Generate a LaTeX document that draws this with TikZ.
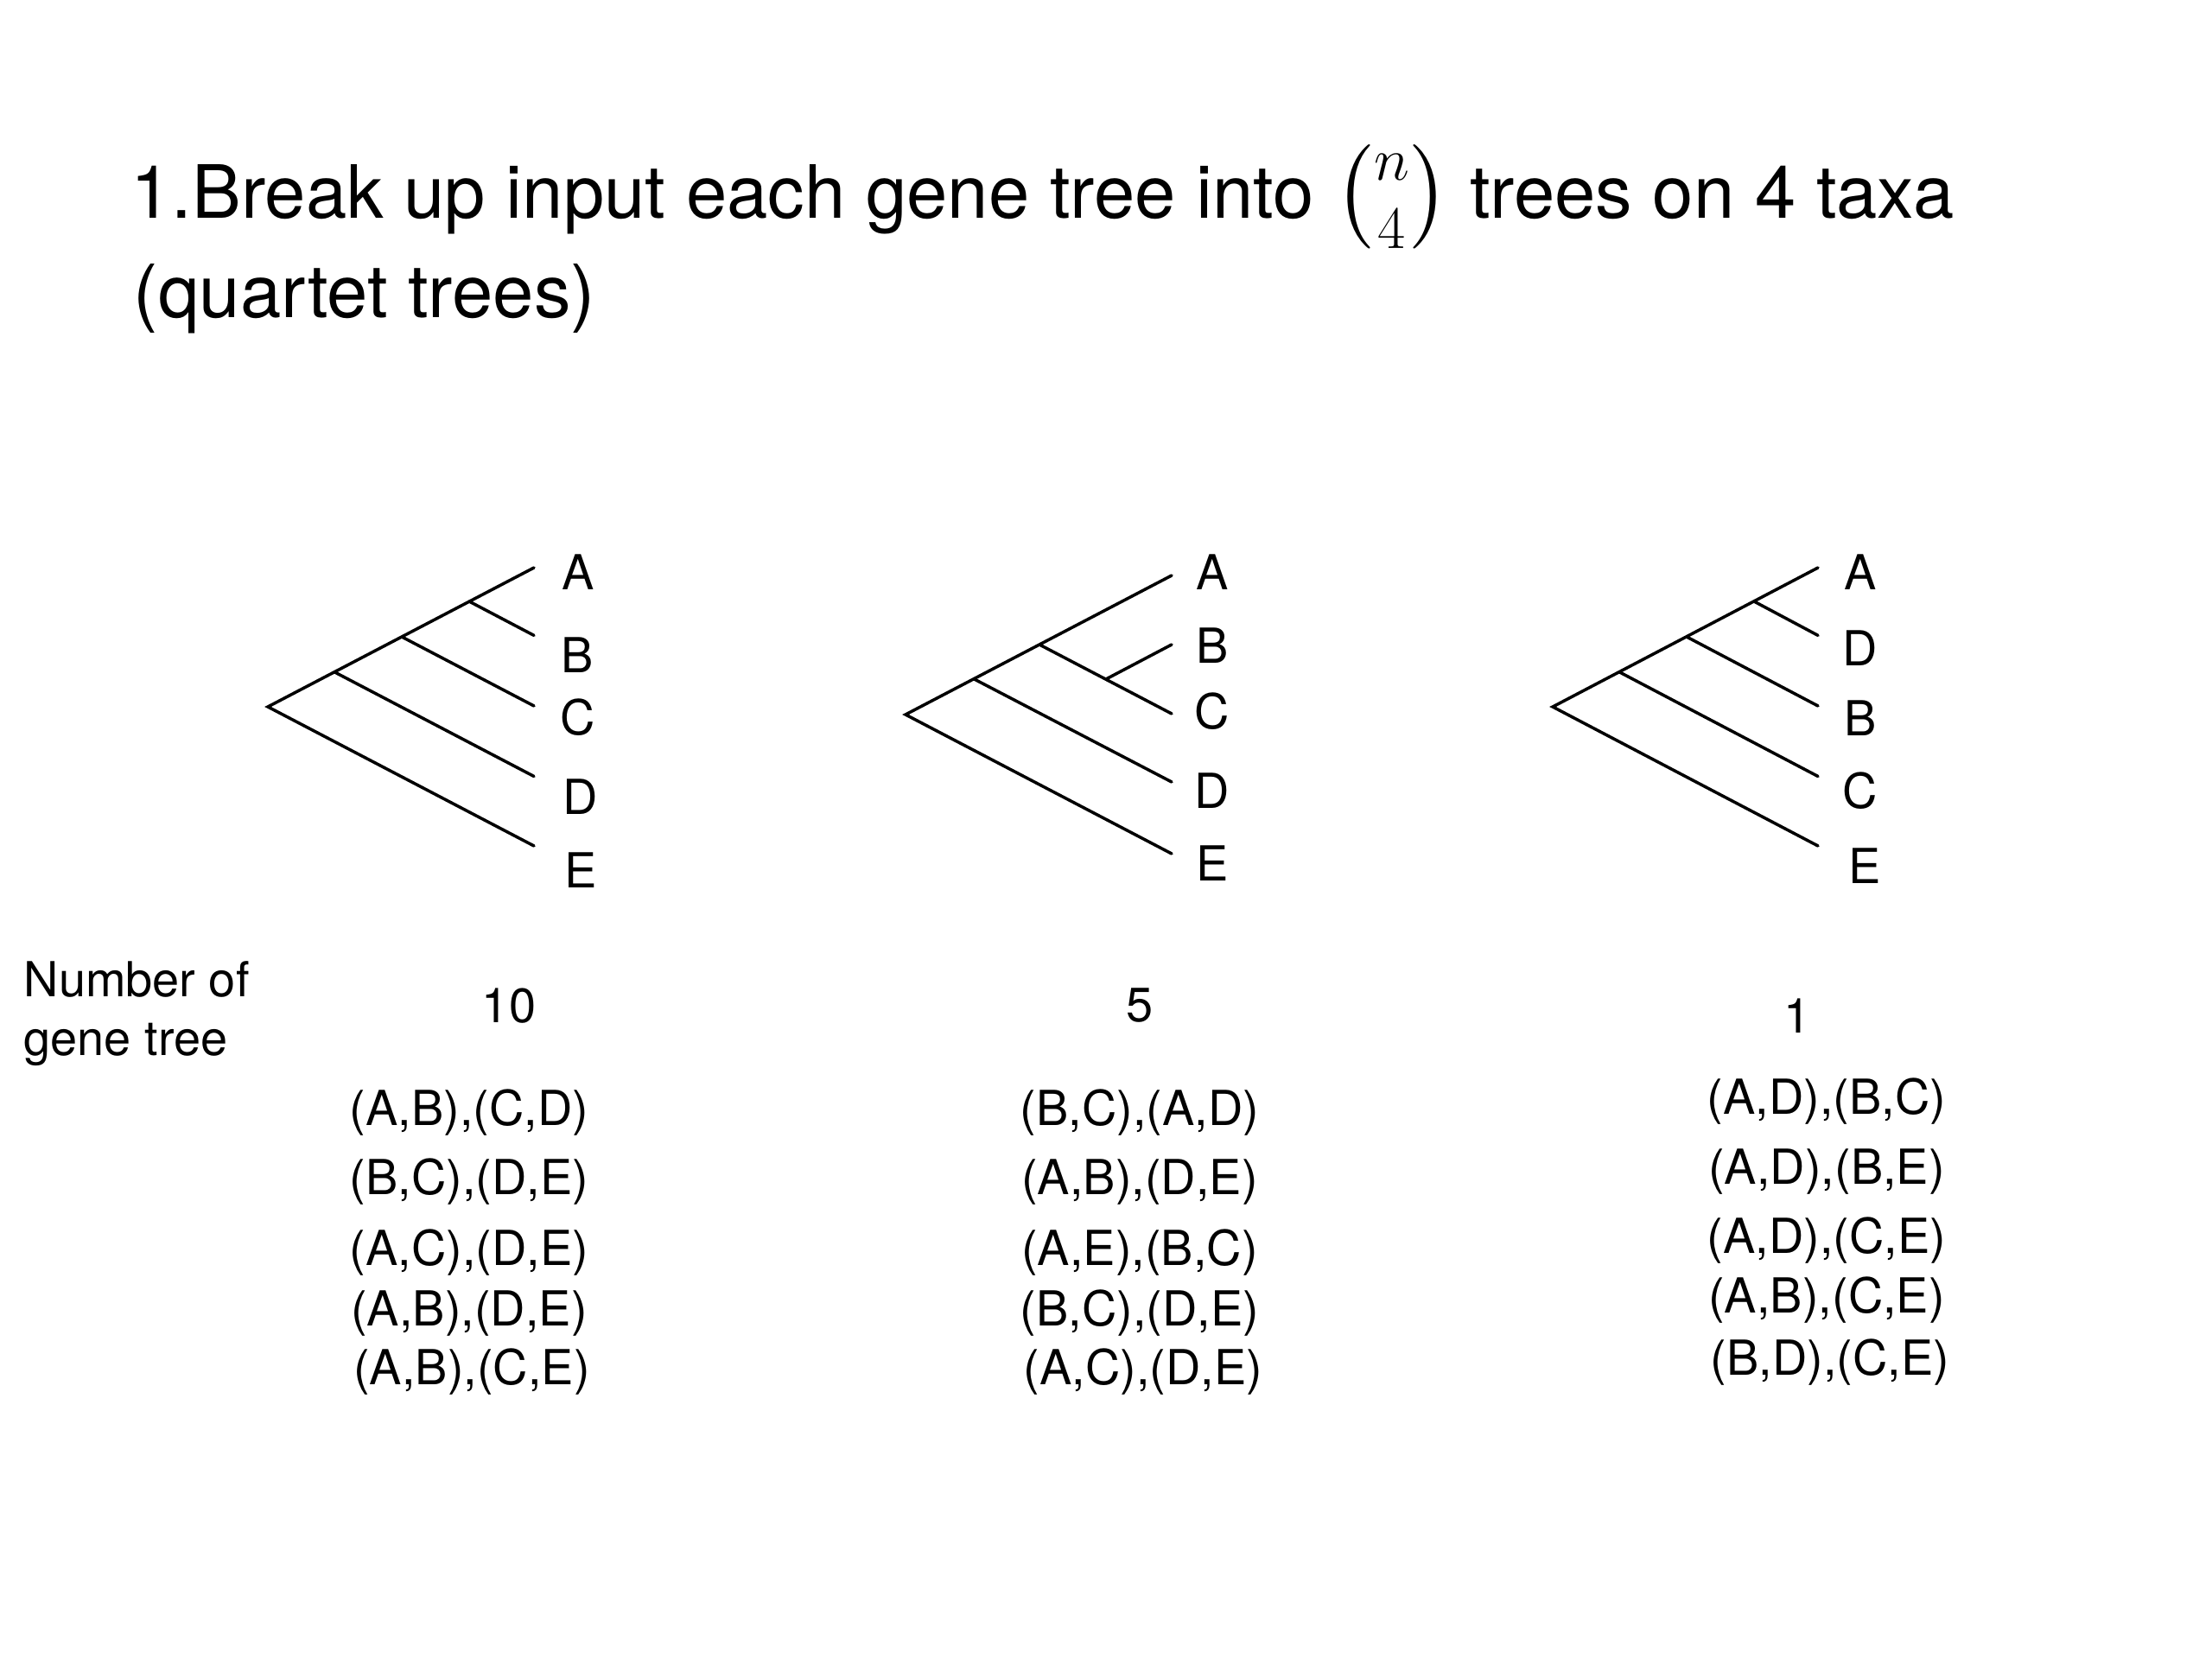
\documentclass[tikz,border=0pt]{standalone}
\usepackage{amsmath}
\usepackage{graphicx}
\usepackage{fontspec}
\setmainfont{TeX Gyre Heros}
\usepackage{tikz}
\usetikzlibrary{positioning}
\def\Titlefont{\fontsize{24.2}{31}\selectfont}
\def\Taxfont{\fontsize{15.9}{19.3}\selectfont}

\begin{document}
\begin{tikzpicture}[
    branch/.style={line width=1pt, line cap=round, line join=miter},
    taxon/.style={font=\Taxfont, inner sep=0pt},
    quartet/.style={font=\Taxfont, inner sep=0pt},
    heading/.style={font=\Titlefont, anchor=base west, inner sep=0pt}]
  \useasboundingbox (0,0) rectangle (25.6,-19.2);

  % title
  \node[heading] (title1) at (1.51,-2.53)
    {1.Break up input each gene tree into \scalebox{1.15}{$\binom{n}{4}$} trees on 4 taxa};
  \node[heading] (title2) at (1.54,-3.68) {(quartet trees)};

  % tree 1: (((A,B),C),D),E
  \coordinate (r1) at (3.10,-8.18);
  \coordinate (i1a) at (3.87,-7.777);
  \coordinate (i1b) at (4.65,-7.37);
  \coordinate (i1c) at (5.43,-6.96);
  \coordinate (t1A) at (6.18,-6.57);
  \coordinate (t1B) at (6.18,-7.354);
  \coordinate (t1C) at (6.18,-8.17);
  \coordinate (t1D) at (6.18,-8.985);
  \coordinate (t1E) at (6.18,-9.79);
  \draw[branch] (t1A) -- (r1) -- (t1E);
  \draw[branch] (i1a) -- (t1D);
  \draw[branch] (i1b) -- (t1C);
  \draw[branch] (i1c) -- (t1B);
  \foreach \n/\x/\y in {A/6.69/6.62, B/6.68/7.58, C/6.69/8.30, D/6.72/9.22, E/6.72/10.07}
    \node[taxon] (l1\n) at (\x,-\y) {\n};

  % tree 2: ((A,(B,C)),D),E
  \coordinate (r2) at (10.48,-8.27);
  \coordinate (i2a) at (11.27,-7.857);
  \coordinate (i2b) at (12.03,-7.46);
  \coordinate (i2c) at (12.80,-7.86);
  \coordinate (t2A) at (13.56,-6.66);
  \coordinate (t2B) at (13.56,-7.46);
  \coordinate (t2C) at (13.56,-8.26);
  \coordinate (t2D) at (13.56,-9.05);
  \coordinate (t2E) at (13.56,-9.88);
  \draw[branch] (t2A) -- (r2) -- (t2E);
  \draw[branch] (i2a) -- (t2D);
  \draw[branch] (i2b) -- (t2C);
  \draw[branch] (i2c) -- (t2B);
  \foreach \n/\y in {A/6.62, B/7.47, C/8.23, D/9.15, E/9.99}
    \node[taxon] (l2\n) at (14.03,-\y) {\n};

  % tree 3: (((A,D),B),C),E
  \coordinate (r3) at (17.97,-8.18);
  \coordinate (i3a) at (18.74,-7.777);
  \coordinate (i3b) at (19.52,-7.37);
  \coordinate (i3c) at (20.30,-6.96);
  \coordinate (t3A) at (21.04,-6.57);
  \coordinate (t3D) at (21.04,-7.354);
  \coordinate (t3B) at (21.04,-8.17);
  \coordinate (t3C) at (21.04,-8.985);
  \coordinate (t3E) at (21.04,-9.79);
  \draw[branch] (t3A) -- (r3) -- (t3E);
  \draw[branch] (i3a) -- (t3C);
  \draw[branch] (i3b) -- (t3B);
  \draw[branch] (i3c) -- (t3D);
  \foreach \n/\x/\y in {A/21.53/6.62, D/21.53/7.50, B/21.53/8.31, C/21.53/9.15, E/21.58/10.02}
    \node[taxon] (l3\n) at (\x,-\y) {\n};

  % counts
  \node[taxon, align=left, anchor=north west] (ngt) at (0.27,-11.12) {Number of\\gene tree};
  \node[taxon] (cnt1) at (5.89,-11.64) {10};
  \node[taxon] (cnt2) at (13.19,-11.64) {5};
  \node[taxon] (cnt3) at (20.80,-11.76) {1};

  % quartets
  \foreach \x/\y/\q [count=\i] in {5.43/12.88/{(A,B),(C,D)}, 5.43/13.68/{(B,C),(D,E)},
      5.43/14.50/{(A,C),(D,E)}, 5.43/15.20/{(A,B),(D,E)}, 5.46/15.88/{(A,B),(C,E)}}
    \node[quartet] (q1-\i) at (\x,-\y) {\q};
  \foreach \x/\y/\q [count=\i] in {13.19/12.88/{(B,C),(A,D)}, 13.19/13.68/{(A,B),(D,E)},
      13.19/14.50/{(A,E),(B,C)}, 13.19/15.20/{(B,C),(D,E)}, 13.23/15.88/{(A,C),(D,E)}}
    \node[quartet] (q2-\i) at (\x,-\y) {\q};
  \foreach \x/\y/\q [count=\i] in {21.14/12.75/{(A,D),(B,C)}, 21.14/13.56/{(A,D),(B,E)},
      21.14/14.36/{(A,D),(C,E)}, 21.14/15.05/{(A,B),(C,E)}, 21.18/15.77/{(B,D),(C,E)}}
    \node[quartet] (q3-\i) at (\x,-\y) {\q};
\end{tikzpicture}
\end{document}
